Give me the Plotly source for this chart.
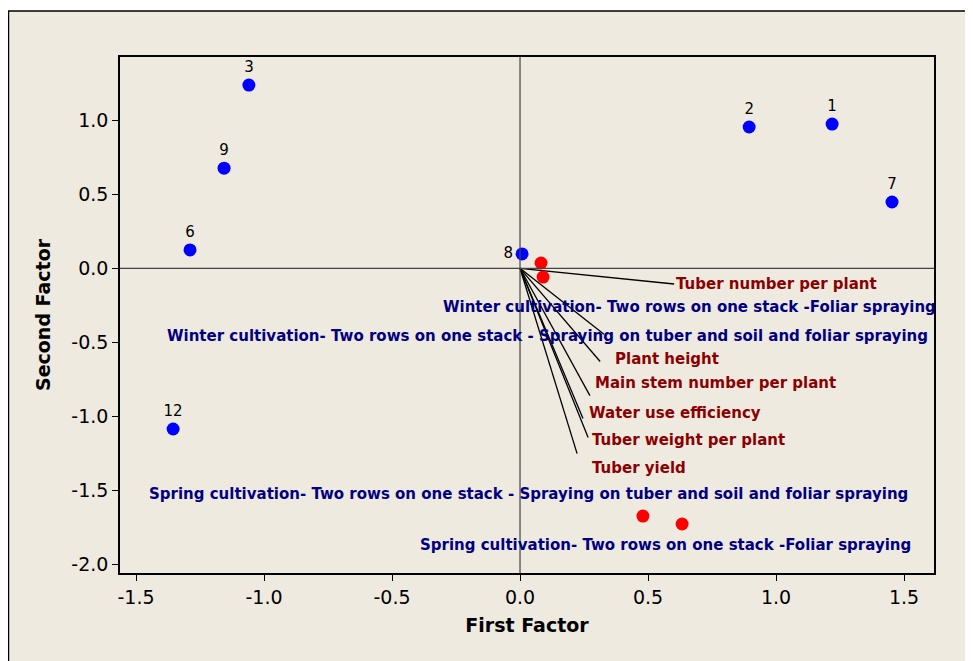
import plotly.graph_objects as go

# Scores (blue points)
score_labels = ["1", "2", "3", "6", "7", "8", "9", "12"]
score_x = [1.219, 0.895, -1.059, -1.289, 1.453, 0.008, -1.156, -1.355]
score_y = [0.975, 0.955, 1.238, 0.124, 0.448, 0.097, 0.677, -1.086]
score_textpos = ["top center", "top center", "top center", "top center",
                 "top center", "middle left", "top center", "top center"]

# Treatment points (red)
treat_names = [
    "Winter cultivation- Two rows on one stack -Foliar spraying",
    "Winter cultivation- Two rows on one stack - Spraying on tuber and soil and foliar spraying",
    "Spring cultivation- Two rows on one stack - Spraying on tuber and soil and foliar spraying",
    "Spring cultivation- Two rows on one stack -Foliar spraying",
]
treat_x = [0.082, 0.090, 0.480, 0.633]
treat_y = [0.036, -0.059, -1.674, -1.728]
treat_label_x = [1.600, 1.602, 1.524, 1.535]
treat_label_y = [-0.259, -0.455, -1.525, -1.870]
treat_label_shift = [8, 0, 0, 0]

# Loadings (lines from origin)
load_x = [0.602, 0.328, 0.313, 0.273, 0.246, 0.266, 0.223]
load_y = [-0.106, -0.445, -0.630, -0.860, -1.015, -1.144, -1.252]

trait_names = ["Tuber number per plant", "Plant height", "Main stem number per plant",
               "Water use efficiency", "Tuber weight per plant", "Tuber yield"]
trait_label_x = [0.601, 0.363, 0.285, 0.262, 0.273, 0.273]
trait_label_y = [-0.106, -0.610, -0.772, -0.975, -1.158, -1.348]

x_ticks = [-1.5, -1.0, -0.5, 0.0, 0.5, 1.0, 1.5]
y_ticks = [-2.0, -1.5, -1.0, -0.5, 0.0, 0.5, 1.0]

FONT = "DejaVu Sans"
fig = go.Figure()

# loading lines
for lx, ly in zip(load_x, load_y):
    fig.add_trace(go.Scatter(x=[0, lx], y=[0, ly], mode="lines",
                             line=dict(color="black", width=1.3),
                             hoverinfo="skip", showlegend=False))

fig.add_trace(go.Scatter(x=score_x, y=score_y, mode="markers+text",
                         text=score_labels, textposition=score_textpos,
                         textfont=dict(family=FONT, size=15, color="black"),
                         marker=dict(color="#0000FF", size=13),
                         showlegend=False))

fig.add_trace(go.Scatter(x=treat_x, y=treat_y, mode="markers",
                         marker=dict(color="#FF0000", size=13),
                         showlegend=False))

for name, tx, ty, sh in zip(treat_names, treat_label_x, treat_label_y, treat_label_shift):
    fig.add_annotation(x=tx, y=ty, text=name, showarrow=False, xanchor="right",
                       yanchor="middle", xshift=sh,
                       font=dict(family=FONT, size=15, color="#000080", weight="bold"))

for name, tx, ty in zip(trait_names, trait_label_x, trait_label_y):
    fig.add_annotation(x=tx, y=ty, text=name, showarrow=False, xanchor="left",
                       yanchor="middle",
                       font=dict(family=FONT, size=15, color="#8B0000", weight="bold"))

# reference lines
fig.add_hline(y=0, line=dict(color="#444444", width=1.2))
fig.add_vline(x=0, line=dict(color="#444444", width=1.2))

# outer beige frame
fig.add_shape(type="rect", xref="paper", yref="paper",
              x0=-0.1370, x1=1.2, y0=-0.3, y1=1.089,
              fillcolor="#EEEAE0", line=dict(color="black", width=1.5), layer="below")

fig.update_xaxes(range=[-1.5625, 1.617], tickvals=x_ticks,
                 ticktext=[f"{v:.1f}" for v in x_ticks],
                 ticks="outside", ticklen=6, tickcolor="black", showgrid=False,
                 zeroline=False, showline=True, linecolor="black", linewidth=1.5,
                 mirror=True, tickfont=dict(family=FONT, size=19, color="black"),
                 title=dict(text="<b>First Factor</b>", standoff=12,
                            font=dict(family=FONT, size=19, color="black")))
fig.update_yaxes(range=[-2.059, 1.428], tickvals=y_ticks,
                 ticktext=[f"{v:.1f}" for v in y_ticks],
                 ticks="outside", ticklen=6, tickcolor="black", showgrid=False,
                 zeroline=False, showline=True, linecolor="black", linewidth=1.5,
                 mirror=True, tickfont=dict(family=FONT, size=19, color="black"),
                 title=dict(text="<b>Second Factor</b>", standoff=16,
                            font=dict(family=FONT, size=19, color="black")))

fig.update_layout(width=965, height=653,
                  margin=dict(l=112, r=39, t=49, b=88),
                  paper_bgcolor="white", plot_bgcolor="white")

fig.write_html("out.html")
